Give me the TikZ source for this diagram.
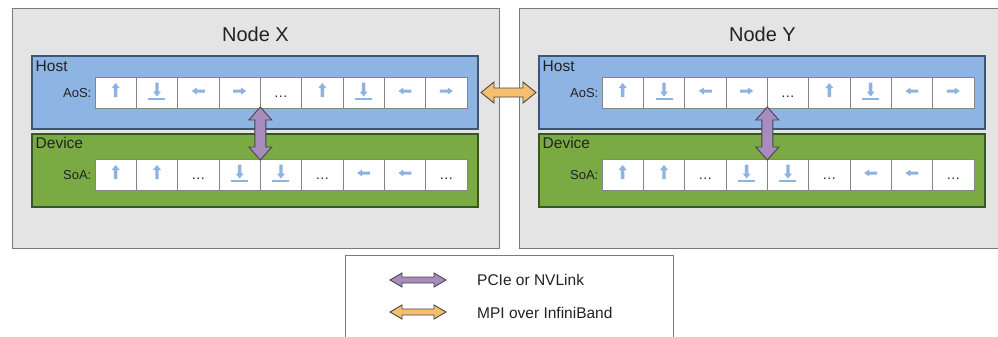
\documentclass[tikz,border=0pt]{standalone}
\usepackage{fontspec}
\setmainfont{Liberation Sans}
\usetikzlibrary{calc}
\definecolor{nodegray}{HTML}{E4E4E4}
\definecolor{nodeedge}{HTML}{7A7A7A}
\definecolor{hostblue}{HTML}{8DB4E2}
\definecolor{hostedge}{HTML}{3E5672}
\definecolor{devgreen}{HTML}{79AA44}
\definecolor{devedge}{HTML}{3C5526}
\definecolor{celledge}{HTML}{858585}
\definecolor{glyphblue}{HTML}{8EB3E0}
\definecolor{pcie}{HTML}{A98CBE}
\definecolor{mpi}{HTML}{F5BF6E}
\definecolor{arredge}{HTML}{474747}
\definecolor{txt}{HTML}{222222}
% horizontal double block arrow: style, from, to, head length, head half-height, shaft half-height
\newcommand{\hdblarrow}[6]{%
  \draw[#1] let \p1=(#2), \p2=(#3) in
    (\x1,\y1) -- (\x1+#4,\y1+#5) -- (\x1+#4,\y1+#6) -- (\x2-#4,\y1+#6) -- (\x2-#4,\y1+#5)
    -- (\x2,\y1) -- (\x2-#4,\y1-#5) -- (\x2-#4,\y1-#6) -- (\x1+#4,\y1-#6) -- (\x1+#4,\y1-#5) -- cycle;}
% vertical double block arrow: style, top, bottom, head length, head half-width, shaft half-width
\newcommand{\vdblarrow}[6]{%
  \draw[#1] let \p1=(#2), \p2=(#3) in
    (\x1,\y1) -- (\x1+#5,\y1-#4) -- (\x1+#6,\y1-#4) -- (\x1+#6,\y2+#4) -- (\x1+#5,\y2+#4)
    -- (\x1,\y2) -- (\x1-#5,\y2+#4) -- (\x1-#6,\y2+#4) -- (\x1-#6,\y1-#4) -- (\x1-#5,\y1-#4) -- cycle;}
\begin{document}
\begin{tikzpicture}[x=1pt,y=-1pt,
  outerbox/.style={draw=nodeedge, fill=nodegray, line width=1pt, minimum width=487pt, minimum height=239pt, inner sep=0pt, outer sep=0pt},
  hostbox/.style={draw=hostedge, fill=hostblue, line width=1.2pt, minimum width=446pt, minimum height=73pt, inner sep=0pt, outer sep=0pt},
  devbox/.style={draw=devedge, fill=devgreen, line width=1.2pt, minimum width=446pt, minimum height=73pt, inner sep=0pt, outer sep=0pt},
  cellbox/.style={draw=celledge, fill=white, line width=0.8pt, minimum width=41.33pt, minimum height=31pt, inner sep=0pt, outer sep=0pt},
  titletext/.style={text=txt, font=\fontsize{20}{24}\selectfont, inner sep=0pt},
  boxlabel/.style={text=txt, font=\fontsize{15.5}{18}\selectfont, inner sep=0pt},
  rowlabel/.style={text=txt, font=\fontsize{13}{15}\selectfont, inner sep=0pt},
  legtext/.style={text=txt, font=\fontsize{15.5}{18}\selectfont, inner sep=0pt},
  pcielink/.style={draw=arredge, fill=pcie, line width=0.9pt, line join=miter},
  mpilink/.style={draw=arredge, fill=mpi, line width=0.9pt, line join=miter},
  pics/gup/.style={code={\fill[glyphblue] (0,-9.5) -- (4,-4.5) -- (1.7,-4.5) -- (1.7,4.5) -- (-1.7,4.5) -- (-1.7,-4.5) -- (-4,-4.5) -- cycle;}},
  pics/gdown/.style={code={\fill[glyphblue] (0,4) -- (4,-1) -- (1.7,-1) -- (1.7,-10) -- (-1.7,-10) -- (-1.7,-1) -- (-4,-1) -- cycle;
      \fill[glyphblue] (-8.5,5.8) rectangle (8.5,7.2);}},
  pics/gleft/.style={code={\fill[glyphblue] (-6.5,-1.5) -- (-1.5,-5) -- (-1.5,-3) -- (6.5,-3) -- (6.5,0) -- (-1.5,0) -- (-1.5,2) -- cycle;}},
  pics/gright/.style={code={\fill[glyphblue] (6.5,-1.5) -- (1.5,-5) -- (1.5,-3) -- (-6.5,-3) -- (-6.5,0) -- (1.5,0) -- (1.5,2) -- cycle;}},
  pics/gdots/.style={code={\node[text=txt, font=\fontsize{14}{14}\selectfont, inner sep=0pt, anchor=base] at (0,5) {…};}},
]
\useasboundingbox (0,0) rectangle (998,337);

\foreach \nn/\dx in {X/0, Y/507} {
  \begin{scope}[shift={(\dx,0)}]
    \node[outerbox] (\nn-node) at (255.5,128.5) {};
    \node[titletext, anchor=base] (\nn-title) at (255.5,41.5) {Node \nn};
    \node[hostbox] (\nn-host) at (255,92.5) {};
    \node[devbox] (\nn-dev) at (255,170.5) {};
    \node[boxlabel, anchor=base west] (\nn-hostlbl) at (35.5,71) {Host};
    \node[boxlabel, anchor=base west] (\nn-devlbl) at (35.5,148) {Device};
    \node[rowlabel, anchor=base east] (\nn-aoslbl) at (91.5,97) {AoS:};
    \node[rowlabel, anchor=base east] (\nn-soalbl) at (91.5,179.5) {SoA:};
    \foreach \g [count=\i] in {gup,gdown,gleft,gright,gdots,gup,gdown,gleft,gright} {
      \node[cellbox] (\nn-aos-\i) at ({95+41.33*(\i-0.5)},92.5) {};
      \pic at (\nn-aos-\i.center) {\g};
    }
    \foreach \g [count=\i] in {gup,gup,gdots,gdown,gdown,gdots,gleft,gleft,gdots} {
      \node[cellbox] (\nn-soa-\i) at ({95+41.33*(\i-0.5)},174.5) {};
      \pic at (\nn-soa-\i.center) {\g};
    }
  \end{scope}
}

% PCIe / NVLink between host and device
\foreach \nn in {X,Y} {
  \coordinate (\nn-pt) at ($(\nn-aos-4.south east)+(0,-1)$);
  \coordinate (\nn-pb) at ($(\nn-soa-4.north east)+(0,1)$);
  \vdblarrow{pcielink}{\nn-pt}{\nn-pb}{13pt}{11.5pt}{5.5pt}
}

% MPI between nodes
\coordinate (mpiA) at ($(X-host.east)+(3,0)$);
\coordinate (mpiB) at ($(Y-host.west)+(-3,0)$);
\hdblarrow{mpilink}{mpiA}{mpiB}{13pt}{10.5pt}{4.5pt}

% Legend
\draw[draw=nodeedge, fill=white, line width=1pt] (345,345) -- (345,255) -- (673,255) -- (673,345);
\coordinate (lgPa) at (390,280);
\coordinate (lgPb) at (446,280);
\coordinate (lgMa) at (390,312);
\coordinate (lgMb) at (446,312);
\hdblarrow{pcielink}{lgPa}{lgPb}{12pt}{7pt}{3pt}
\hdblarrow{mpilink}{lgMa}{lgMb}{12pt}{7pt}{3pt}
\node[legtext, anchor=base west] (lgPt) at (477,285.5) {PCIe or NVLink};
\node[legtext, anchor=base west] (lgMt) at (477,318) {MPI over InfiniBand};
\end{tikzpicture}
\end{document}
